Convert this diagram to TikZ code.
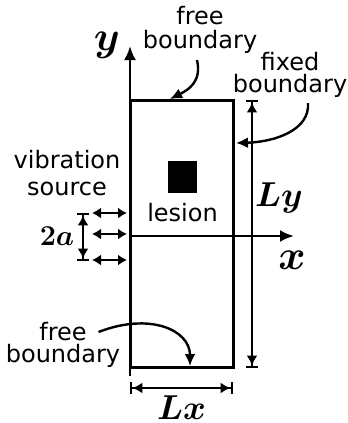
\documentclass[tikz,border=0pt]{standalone}
\usepackage{fontspec}
\setmainfont{DejaVu Sans}
\usetikzlibrary{arrows.meta,positioning,calc}

\begin{document}
\begin{tikzpicture}[
    x=0.5pt, y=-0.5pt,
    every node/.style={
        font=\fontsize{12}{12}\selectfont,
        align=center,
        inner sep=0pt
    },
    axis/.style={
        draw=black,
        line width=1.3pt,
        -{Latex[length=7pt,width=6pt]}
    },
    plate/.style={
        draw=black,
        line width=1.5pt
    },
    dimline/.style={
        draw=black,
        line width=1pt,
        {Bar[width=6pt,line width=1.2pt]Latex[length=5pt,width=5.5pt]}-{Latex[length=5pt,width=5.5pt]Bar[width=6pt,line width=1.2pt]}
    },
    shaker/.style={
        draw=black,
        line width=1.2pt,
        {Latex[length=4.5pt,width=5.5pt]}-{Latex[length=4.5pt,width=5.5pt]}
    },
    callout/.style={
        draw=black,
        line width=1.2pt,
        -{Latex[length=6pt,width=5.5pt]}
    },
    symbol/.style={
        font=\fontsize{16}{16}\selectfont\boldmath
    }
]

% ============================================================
% Plate and axes
% ============================================================

\useasboundingbox (0,0) rectangle (348,423);

\coordinate (SW) at (130,367);
\coordinate (NE) at (233,100);
\coordinate (origin) at (130,236);

\draw[plate] (SW) rectangle (NE);

\draw[axis] (130,376) -- (130,46);
\draw[axis] (origin) -- (294,236);

\node[symbol, font=\fontsize{20}{20}\selectfont\boldmath] (ylab) at (107,45) {$y$};
\node[symbol, font=\fontsize{22}{22}\selectfont\boldmath] (xlab) at (292,260) {$x$};

% Lesion
\node[fill=black, minimum width=14.5pt, minimum height=16pt] (lesionbox) at (182.5,176.5) {};
\node[below=5pt of lesionbox] (lesion) {lesion};

% ============================================================
% Dimensions
% ============================================================

\coordinate (LyTop) at (252,100);
\coordinate (LyBottom) at (252,368);
\draw[dimline] (LyTop) -- (LyBottom);
\node[symbol] (Ly) at (279,198) {$Ly$};

\coordinate (LxLeft) at (130,388);
\coordinate (LxRight) at (233,388);
\draw[dimline] (LxLeft) -- (LxRight);
\node[symbol, below=3.5pt of $(LxLeft)!0.5!(LxRight)$] (Lx) {$Lx$};

% ============================================================
% Vibration source
% ============================================================

\node[font=\fontsize{12}{13.5}\selectfont] (source) at (67,173) {vibration\\source};

\coordinate (srcTop) at (83,213);
\coordinate (srcBottom) at (83,261);
\draw[dimline] (srcTop) -- (srcBottom);
\node[symbol, font=\fontsize{15}{15}\selectfont\boldmath] (twoa) at (57,236) {$2a$};

\draw[shaker] (92,213) -- (127,213);
\draw[shaker] (92,234) -- (127,234);
\draw[shaker] (92,260) -- (127,260);

% ============================================================
% Boundary labels
% ============================================================

\node (freetop) at (200,30) {free\\boundary};
\node[font=\fontsize{12}{11}\selectfont] (fixed) at (290,75) {fixed\\boundary};
\node[font=\fontsize{12}{11}\selectfont] (freebottom) at (63,345) {free\\boundary};

\coordinate (topHit) at (170,99);
\coordinate (sideHit) at (236,143);
\coordinate (bottomHit) at (190,366);

\draw[callout]
($(freetop.south)+(-3,6)$)
.. controls (202,82) and (188,90) .. (topHit);

\draw[callout]
($(fixed.south)+(18,5)$)
.. controls (310,130) and (275,142) .. (sideHit);

\draw[callout]
($(freebottom.north east)+(-22,10)$)
.. controls (150,312) and (190,330) .. (bottomHit);

\end{tikzpicture}
\end{document}
